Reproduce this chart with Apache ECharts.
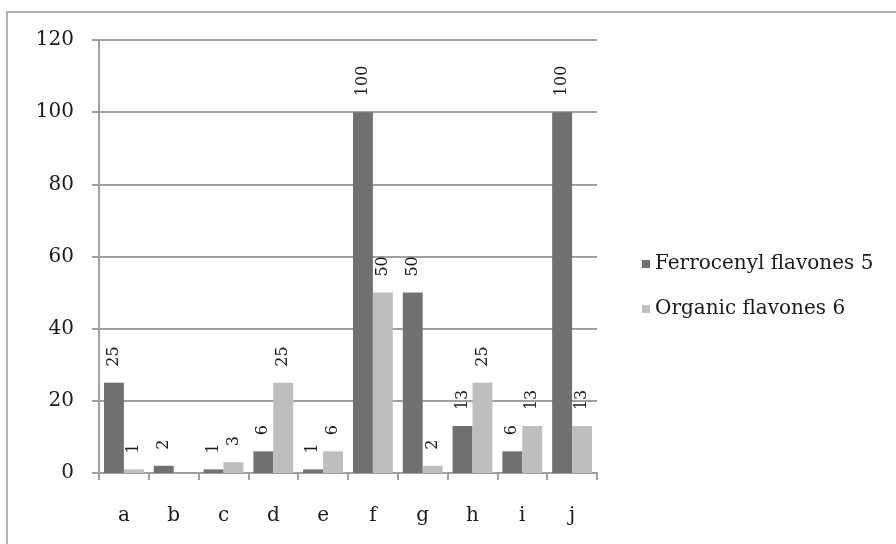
<!DOCTYPE html>
<html>
<head>
<meta charset="utf-8">
<script src="https://cdn.jsdelivr.net/npm/echarts@6/dist/echarts.min.js"></script>
<style>
  html, body { margin: 0; padding: 0; background: #fff; }
  #chart { width: 896px; height: 544px; }
</style>
</head>
<body>
<div id="chart"></div>
<script>
// categories and values
var categories = ['a', 'b', 'c', 'd', 'e', 'f', 'g', 'h', 'i', 'j'];
var ferrocenyl = [25, 2, 1, 6, 1, 100, 50, 13, 6, 100];
var organic = [1, 0, 3, 25, 6, 50, 2, 25, 13, 13];
var yTicks = [0, 20, 40, 60, 80, 100, 120];

var FONT = 'DejaVu Serif';
var chart = echarts.init(document.getElementById('chart'));

var barLabel = {
  show: true,
  position: 'top',
  rotate: 90,
  align: 'left',
  verticalAlign: 'middle',
  distance: 16,
  fontFamily: FONT,
  fontSize: 16,
  color: '#1a1a1a',
  formatter: function (p) { return p.value === 0 ? '' : p.value; }
};

var option = {
  animation: false,
  backgroundColor: '#fff',
  graphic: [{
    type: 'rect',
    shape: { x: 7, y: 12, width: 1000, height: 1000 },
    style: { fill: 'none', stroke: '#b3b3b3', lineWidth: 2 }
  }],
  grid: { left: 99, right: 299, top: 40, bottom: 71 },
  legend: {
    orient: 'vertical',
    left: 637,
    top: 249,
    itemWidth: 8,
    itemHeight: 8,
    itemGap: 25,
    icon: 'rect',
    textStyle: { fontFamily: FONT, fontSize: 20, lineHeight: 20, color: '#1a1a1a' },
    data: ['Ferrocenyl flavones 5', 'Organic flavones 6']
  },
  xAxis: {
    type: 'category',
    data: categories,
    axisLine: { lineStyle: { color: '#a0a0a0', width: 2 } },
    axisTick: { show: true, length: 7, lineStyle: { color: '#a0a0a0', width: 2 } },
    axisLabel: { fontFamily: FONT, fontSize: 20, color: '#1a1a1a', margin: 33 }
  },
  yAxis: {
    type: 'value',
    min: yTicks[0],
    max: yTicks[yTicks.length - 1],
    interval: 20,
    axisLine: { show: true, lineStyle: { color: '#a0a0a0', width: 2 } },
    axisTick: { show: true, length: 7, lineStyle: { color: '#a0a0a0', width: 2 } },
    splitLine: { lineStyle: { color: '#a0a0a0', width: 2 } },
    axisLabel: { fontFamily: FONT, fontSize: 20, color: '#1a1a1a', margin: 25 }
  },
  series: [{
    name: 'Ferrocenyl flavones 5',
    type: 'bar',
    data: ferrocenyl,
    barGap: '0%',
    barCategoryGap: '20%',
    itemStyle: { color: '#707070' },
    label: barLabel
  }, {
    name: 'Organic flavones 6',
    type: 'bar',
    data: organic,
    barGap: '0%',
    barCategoryGap: '20%',
    itemStyle: { color: '#bebebe' },
    label: barLabel
  }]
};

chart.setOption(option);
</script>
</body>
</html>
